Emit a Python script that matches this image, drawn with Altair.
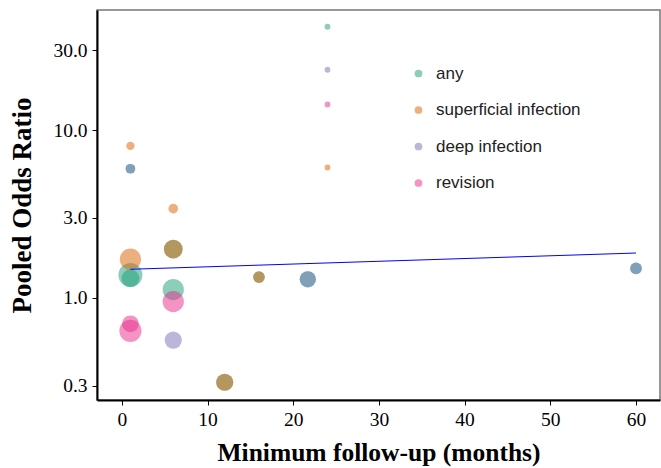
import altair as alt
import pandas as pd

# ---- data ----
outcome = (["any"] * 10 + ["superficial infection"] * 7 +
           ["deep infection"] * 5 + ["revision"] * 4)
followup = [24, 1, 1, 1, 6, 6, 12, 16, 21.7, 60,
            24, 1, 6, 1, 6, 12, 16,
            24, 1, 6, 21.7, 60,
            24, 6, 1, 1]
odds_ratio = [41.3, 5.88, 1.37, 1.31, 1.12, 1.95, 0.314, 1.33, 1.29, 1.50,
              5.98, 8.06, 3.40, 1.70, 1.95, 0.314, 1.33,
              22.9, 5.88, 0.56, 1.29, 1.50,
              14.2, 0.95, 0.70, 0.636]
weight = [7, 19, 117, 64, 92, 71, 60, 28, 54, 28,
          7, 14, 19, 92, 71, 60, 28,
          7, 19, 60, 54, 28,
          7, 92, 58, 100]

categories = ["any", "superficial infection", "deep infection", "revision"]
palette = ["#1b9e77", "#d95f02", "#7570b3", "#e7298a"]

line_x = [1, 60]
line_or = [1.48, 1.85]

y_ticks = [0.3, 1, 3, 10, 30]
x_ticks = [0, 10, 20, 30, 40, 50, 60]

df = pd.DataFrame({"outcome": outcome, "followup": followup,
                   "odds": odds_ratio, "weight": weight,
                   "order": list(range(len(outcome)))})
line_df = pd.DataFrame({"followup": line_x, "odds": line_or})

x_scale = alt.Scale(domain=[-2.9, 62.8], nice=False, zero=False)
y_scale = alt.Scale(type="log", domain=[0.246, 52], nice=False)

x_axis = alt.Axis(values=x_ticks, title="Minimum follow-up (months)",
                  grid=False, format="d", titleFontSize=25.5, titlePadding=12)
y_axis = alt.Axis(values=y_ticks, title="Pooled Odds Ratio",
                  grid=False, format=".1f", titleFontSize=27, titlePadding=16)

points = alt.Chart(df).mark_circle(opacity=0.5, strokeWidth=0).encode(
    x=alt.X("followup:Q", scale=x_scale, axis=x_axis),
    y=alt.Y("odds:Q", scale=y_scale, axis=y_axis),
    color=alt.Color("outcome:N",
                    scale=alt.Scale(domain=categories, range=palette),
                    legend=alt.Legend(title=None, orient="none",
                                      legendX=313, legendY=55,
                                      symbolType="circle", symbolSize=60,
                                      symbolOpacity=0.5,
                                      labelFont="Liberation Sans",
                                      labelFontSize=17, labelColor="#222222",
                                      rowPadding=18.5, labelOffset=9)),
    size=alt.Size("weight:Q",
                  scale=alt.Scale(type="linear", domain=[0, 100],
                                  range=[0, 491], zero=True),
                  legend=None),
    order=alt.Order("order:Q"),
)

line = alt.Chart(line_df).mark_line(color="#0000ff", strokeWidth=1).encode(
    x=alt.X("followup:Q", scale=x_scale),
    y=alt.Y("odds:Q", scale=y_scale),
)

chart = alt.layer(points, line).properties(
    width=563, height=390,
    padding={"left": 97, "top": 10, "right": 1, "bottom": 68},
    autosize=alt.AutoSizeParams(type="none"),
).configure_view(
    stroke="#777777", strokeWidth=1.5
).configure_axis(
    domainColor="black", domainWidth=2, tickColor="black", tickSize=5,
    labelFont="Liberation Serif", labelFontSize=19.5, labelColor="black",
    titleFont="Liberation Serif", titleFontWeight="bold",
    titleColor="black", labelPadding=5,
)

chart.save("out.html", embed_options={"renderer": "svg", "actions": False})
